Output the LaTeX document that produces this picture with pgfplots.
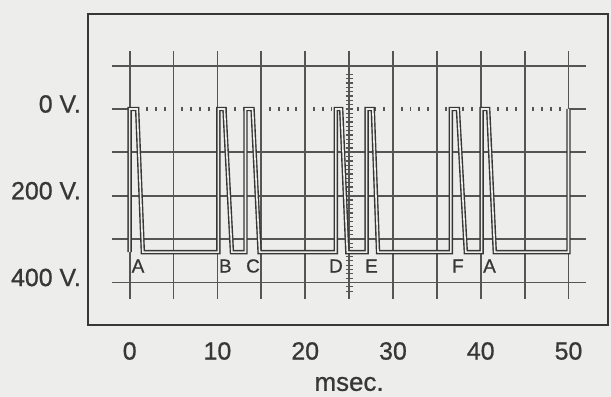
\documentclass[border=0pt]{standalone}
\usepackage{pgfplots}
\pgfplotsset{compat=1.18}
\usepackage{fontspec}
\setmainfont{Liberation Sans}
\newfontface\lblfont{Liberation Sans}[FakeBold=0.8]
\definecolor{bg}{RGB}{237,237,235}
\definecolor{framec}{RGB}{55,55,55}
\definecolor{gridc}{RGB}{85,85,85}
\definecolor{tracec}{RGB}{55,55,55}
\definecolor{textc}{RGB}{55,55,55}
\tikzset{lbl/.style={text=textc, font=\lblfont\fontsize{19}{21}\selectfont, inner sep=0.5pt}}
\begin{document}
\begin{tikzpicture}
\fill[bg, use as bounding box] (-88bp,-72bp) rectangle (523bp,325bp);
\begin{axis}[
  name=ax,
  at={(0,0)}, anchor=south west,
  scale only axis, width=520bp, height=311bp,
  xmin=-4.75, xmax=54.5, ymin=-219, ymax=498,
  y dir=reverse,
  clip=false,
  axis line style={line width=2.8bp, color=framec},
  major tick length=0pt, minor tick num=0,
  xtick={0,10,20,30,40,50},
  xticklabels={0,10,20,30,40,50},
  ytick={0,200,400},
  yticklabels={0 V.,200 V.,400 V.},
  /pgf/number format/assume math mode=true,
  xticklabel style={anchor=center, inner sep=0pt, yshift=-26bp, font=\lblfont\fontsize{25}{27}\selectfont, text=textc},
  yticklabel style={anchor=east, inner sep=0pt, xshift=-7bp, yshift=5bp, font=\lblfont\fontsize{25}{27}\selectfont, text=textc},
  axis background/.style={fill=bg},
]
% graticule: horizontal lines
\draw[gridc, line width=1.8bp] (axis cs:-2,-100) -- (axis cs:52,-100);
\draw[gridc, line width=1.8bp] (axis cs:-2,100) -- (axis cs:52,100);
\draw[gridc, line width=1.8bp] (axis cs:-2,200) -- (axis cs:52,200);
\draw[gridc, line width=1.8bp] (axis cs:-2,300) -- (axis cs:52,300);
\draw[gridc, line width=1.8bp] (axis cs:-2,400) -- (axis cs:52,400);
\draw[gridc, line width=1.8bp] (axis cs:-2,0) -- (axis cs:0,0);
\draw[gridc, line width=1.8bp] (axis cs:50,0) -- (axis cs:52,0);
% vertical lines
\pgfplotsinvokeforeach{0,5,10,15,20,25,30,35,40,45,50}{
  \draw[gridc, line width=1.8bp] (axis cs:#1,-133) -- (axis cs:#1,437);
}
% minor ticks on 0 V line
\pgfplotsinvokeforeach{1,2,3,4,6,7,8,9,11,12,13,14,16,17,18,19,21,22,23,24,26,27,28,29,31,32,33,34,36,37,38,39,41,42,43,44,46,47,48,49}{
  \draw[gridc, line width=1.9bp] (axis cs:#1,-5) -- (axis cs:#1,5);
}
% minor ticks on centre vertical line
\pgfplotsinvokeforeach{-80,-70,-60,-50,-40,-30,-20,-10,0,10,20,30,40,50,60,70,80,90,100,110,120,130,140,150,160,170,180,190,200,210,220,230,240,250,260,270,280,290,300,310,320,330,340,350,360,370,380,390,400,410,420}{
  \draw[gridc, line width=1.2bp] (axis cs:24.6,#1) -- (axis cs:25.4,#1);
}
% trace
\addplot[tracec, line width=1.4bp, double=bg, double distance=1.6bp, line join=miter] coordinates {
 (0,330) (0,0) (0.85,0) (1.5,330)
 (10.1,330) (10.1,0) (10.8,0) (11.65,330)
 (13.2,330) (13.2,0) (14.0,0) (14.8,330)
 (23.5,330) (23.5,0) (24.1,0) (24.8,330)
 (27.0,330) (27.0,0) (27.7,0) (28.3,330)
 (36.6,330) (36.6,0) (37.4,0) (38.3,330)
 (40.1,330) (40.1,0) (40.85,0) (41.6,330)
 (50,330) (50,0)
};
% event letters
\node[lbl] at (axis cs:0.95,362) {A};
\node[lbl] at (axis cs:10.9,362) {B};
\node[lbl] at (axis cs:14.05,362) {C};
\node[lbl] at (axis cs:23.5,362) {D};
\node[lbl] at (axis cs:27.55,362) {E};
\node[lbl] at (axis cs:37.4,362) {F};
\node[lbl] at (axis cs:41.0,362) {A};
\node[text=textc, font=\lblfont\fontsize{26}{28}\selectfont, inner sep=0pt] at (axis cs:25,634) {msec.};
\end{axis}
\end{tikzpicture}
\end{document}
